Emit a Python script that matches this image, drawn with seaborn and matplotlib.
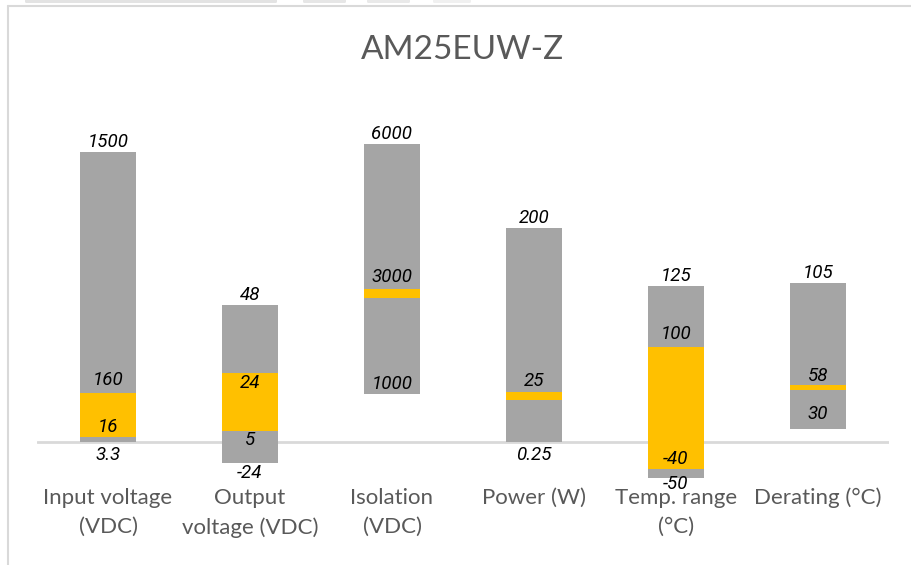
import matplotlib
matplotlib.use("Agg")
import matplotlib.pyplot as plt
import seaborn as sns
import pandas as pd
import numpy as np
from matplotlib.patches import FancyBboxPatch
from matplotlib.lines import Line2D

# ---------------- data (chart units) ----------------
categories = ["Input voltage\n(VDC)", "Output\nvoltage (VDC)", "Isolation\n(VDC)",
              "Power (W)", "Temp. range\n(°C)", "Derating (°C)"]
bar_bottom = [0, -21, 48, 0, -36, 13]       # start of lower grey segment
yellow_start = [5, 11, 144, 42, -27, 52]    # start of yellow segment
yellow_end = [49, 69, 153, 50, 95, 57]      # end of yellow segment
bar_top = [290, 137, 298, 214, 156, 159]    # end of upper grey segment

top_labels = ["1500", "48", "6000", "200", "125", "105"]
mid_labels = ["160", "24", "3000", "25", "100", "58"]
low_labels = ["16", "5", "1000", "0.25", "-40", "30"]
bottom_labels = ["3.3", "-24", "", "", "-50", ""]

title = "AM25EUW-Z"

GREY = "#a5a5a5"
YELLOW = "#ffc000"

sns.set_theme(style="white")
plt.rcParams["font.family"] = ["Lato", "DejaVu Sans"]

W, H = 911, 565
fig = plt.figure(figsize=(W / 100, H / 100), dpi=100)
ax_l, ax_r, ax_t, ax_b = 37, 889, 100, 482
ax = fig.add_axes([ax_l / W, 1 - ax_b / H, (ax_r - ax_l) / W, (ax_b - ax_t) / H])

df = pd.DataFrame({
    "cat": categories,
    "b": bar_bottom, "ys": yellow_start, "ye": yellow_end, "t": bar_top,
})
df["low_h"] = df["ys"] - df["b"]
df["yel_h"] = df["ye"] - df["ys"]
df["up_h"] = df["t"] - df["ye"]

ax.axhline(0, color="#d9d9d9", lw=2, zorder=0)

sns.barplot(data=df, x="cat", y="low_h", order=categories, bottom=df["b"].values,
            color=GREY, saturation=1, width=0.4, ax=ax, zorder=2, linewidth=0)
sns.barplot(data=df, x="cat", y="yel_h", order=categories, bottom=df["ys"].values,
            color=YELLOW, saturation=1, width=0.4, ax=ax, zorder=2, linewidth=0)
sns.barplot(data=df, x="cat", y="up_h", order=categories, bottom=df["ye"].values,
            color=GREY, saturation=1, width=0.4, ax=ax, zorder=2, linewidth=0)

ax.set_xlim(-0.5, 5.5)
ax.set_ylim(-40, 342)
ax.set_xlabel("")
ax.set_ylabel("")
ax.set_yticks([])
for s in ax.spines.values():
    s.set_visible(False)
ax.tick_params(axis="x", length=0, pad=4)
ax.set_xticks(range(len(categories)))
ax.set_xticklabels(categories, fontsize=16, color="#595959", linespacing=1.6,
                   family=["Lato", "DejaVu Sans"])
ax.patch.set_alpha(0)

# ---------------- data labels ----------------
lab_font = dict(family=["Roboto", "DejaVu Sans"], style="italic", fontsize=13.5,
                color="black", ha="center", va="center", zorder=5)
mid_off = [13, -10, 12, 11, 13, 9]
low_anchor = [yellow_start[0], yellow_start[1], bar_bottom[2], bar_bottom[3],
              yellow_start[4], bar_bottom[5]]
low_off = [10, -9, 10, -13, 10, 15]
bot_off = [-13, -10, 0, 0, -6, 0]
for i in range(len(categories)):
    ax.text(i, bar_top[i] + 10, top_labels[i], **lab_font)
    ax.text(i, yellow_end[i] + mid_off[i], mid_labels[i], **lab_font)
    ax.text(i, low_anchor[i] + low_off[i], low_labels[i], **lab_font)
    if bottom_labels[i]:
        ax.text(i, bar_bottom[i] + bot_off[i], bottom_labels[i], **lab_font)

# ---------------- title & frame ----------------
fig.text(463 / W, 1 - 50 / H, title, ha="center", va="center", fontsize=24,
         color="#595959", family=["Lato", "DejaVu Sans"])

fig.add_artist(Line2D([8 / W, 8 / W], [0, 1 - 6 / H], transform=fig.transFigure,
                      color="#d9d9d9", lw=1.5))
fig.add_artist(Line2D([8 / W, 1], [1 - 6 / H, 1 - 6 / H], transform=fig.transFigure,
                      color="#d9d9d9", lw=1.5))
for x0, x1, c in [(25, 277, "#e3e3e3"), (303, 346, "#e6e6e6"), (367, 410, "#e9e9e9"),
                  (433, 471, "#f0f0f0")]:
    fig.add_artist(FancyBboxPatch((x0 / W, 1 - 3 / H), (x1 - x0) / W, 4 / H,
                                  boxstyle="round,pad=0,rounding_size=0.002",
                                  transform=fig.transFigure, fc=c, ec="none"))

fig.savefig("out.png", dpi=100)
